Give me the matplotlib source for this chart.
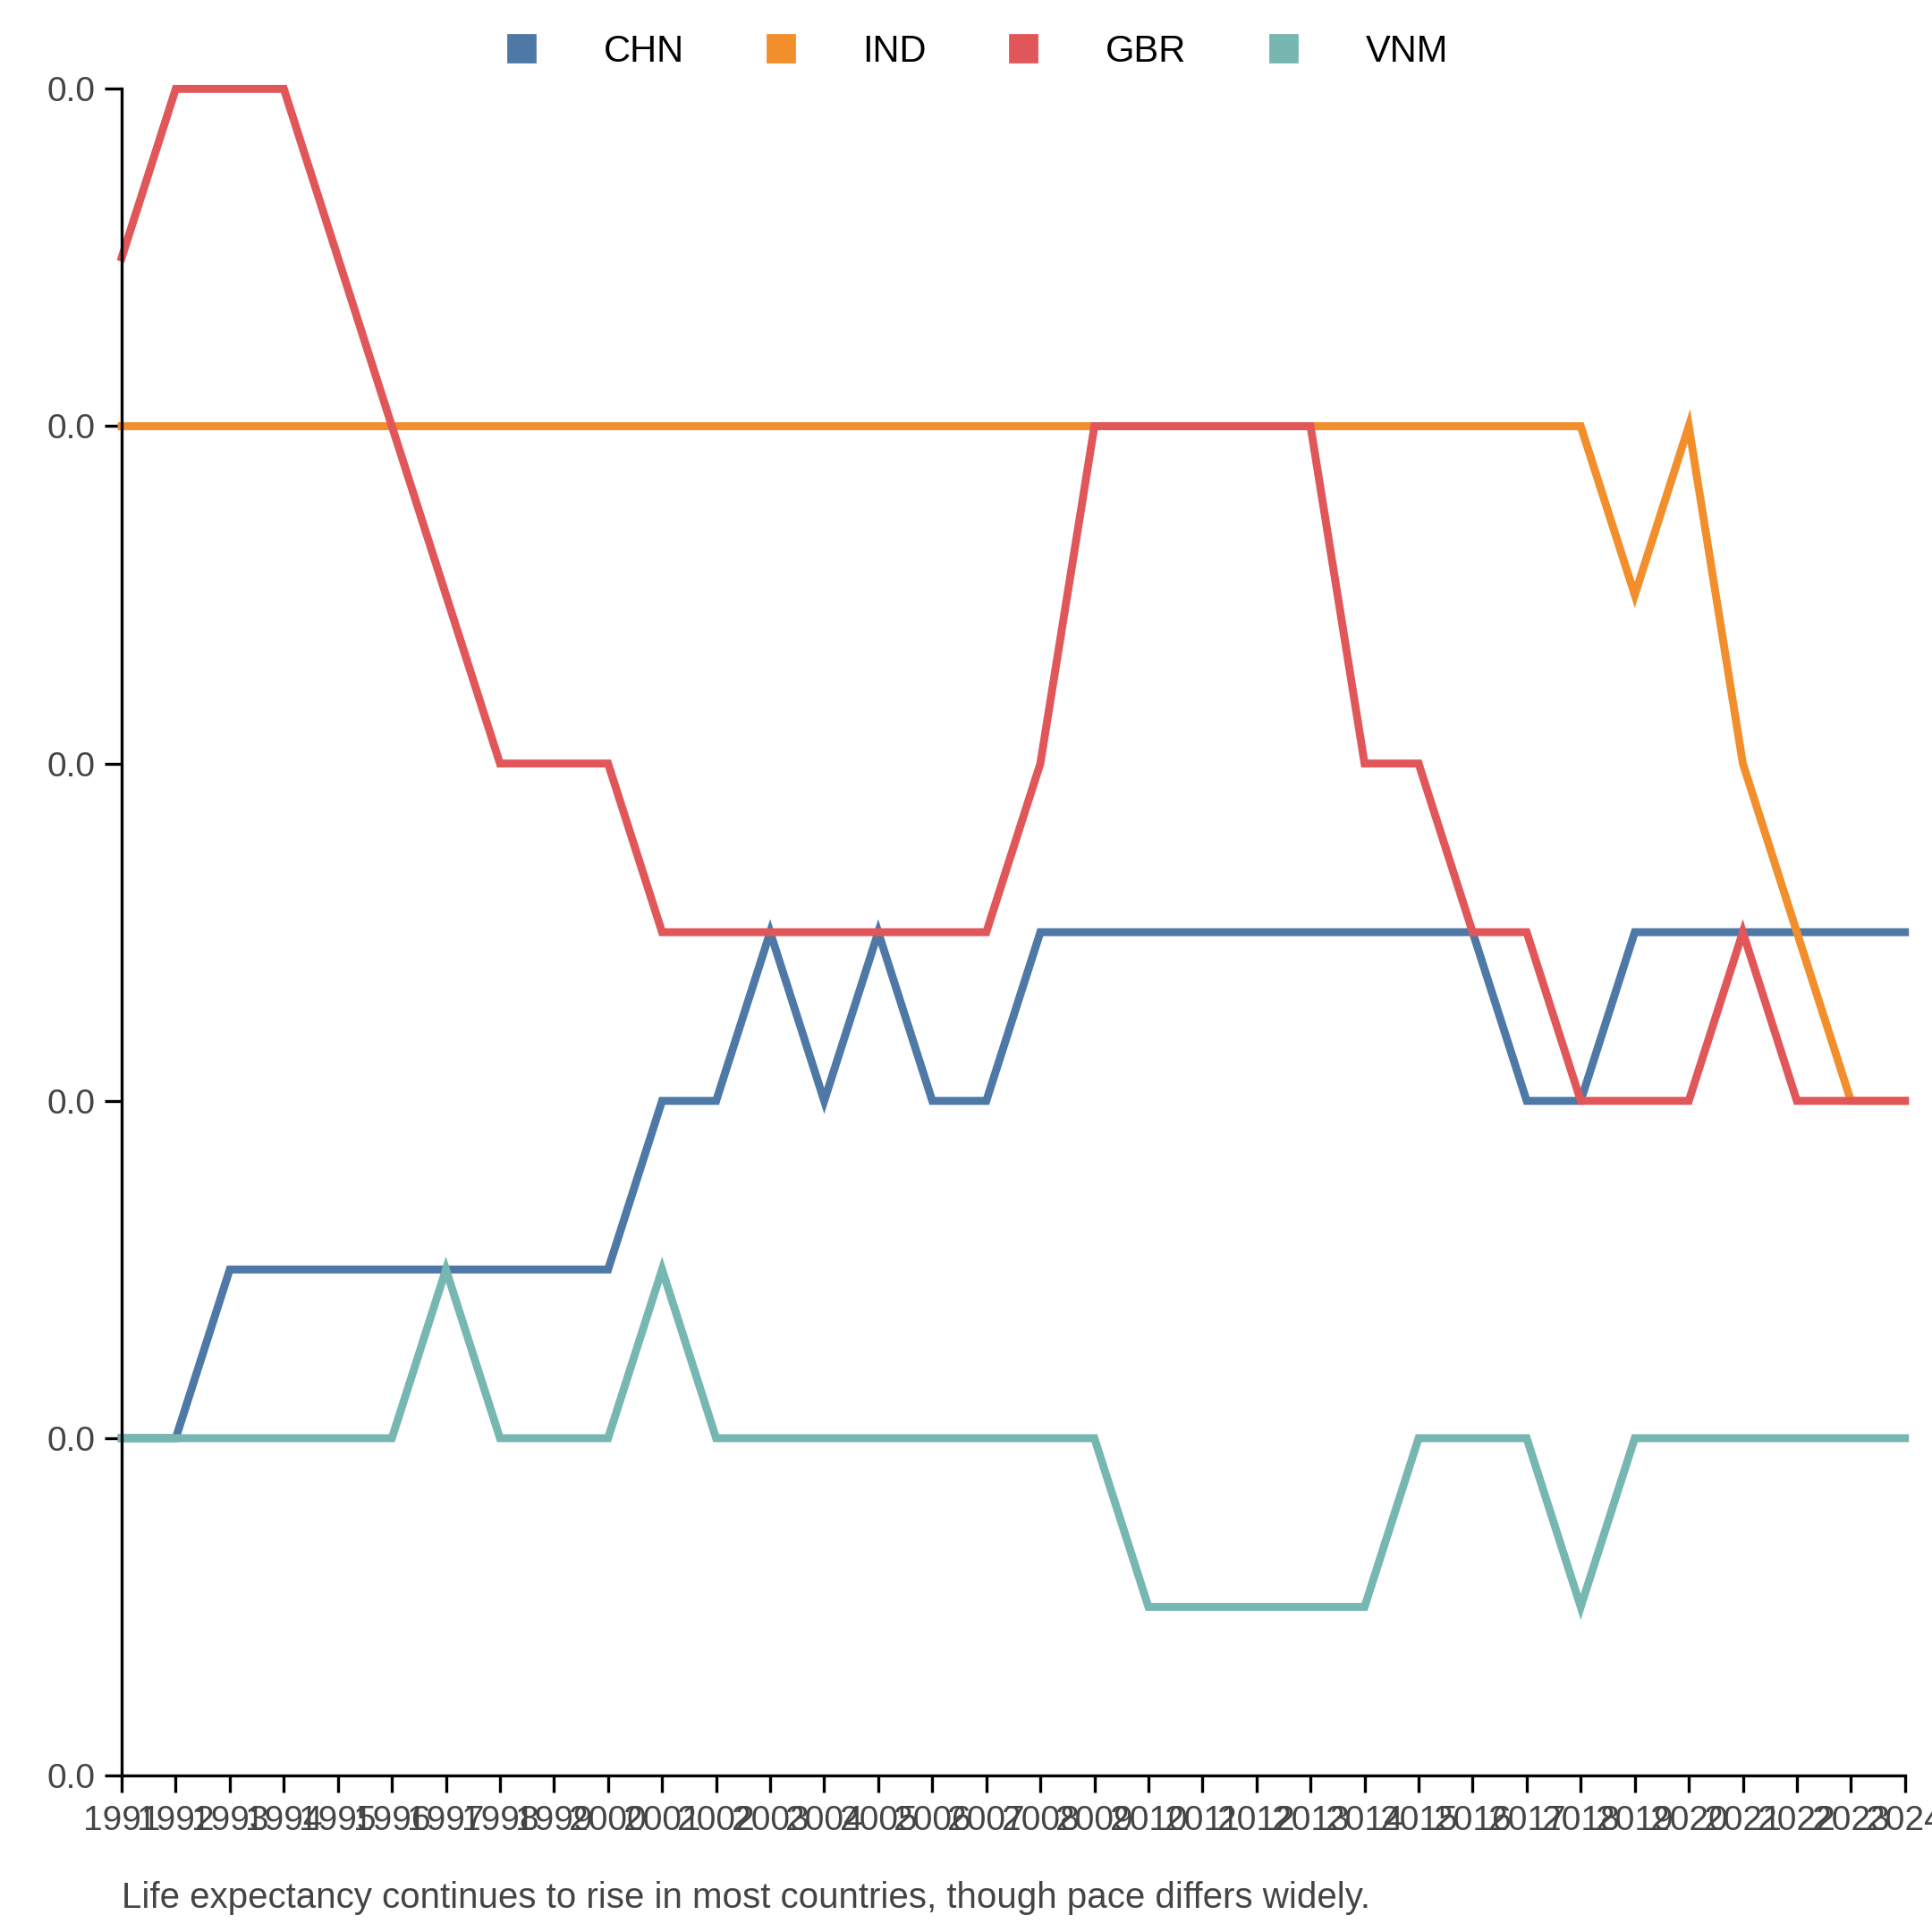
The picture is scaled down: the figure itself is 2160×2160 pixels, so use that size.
import matplotlib
matplotlib.use("Agg")
import matplotlib.pyplot as plt
from matplotlib.ticker import FormatStrFormatter
from matplotlib.lines import Line2D

plt.rcParams["font.family"] = ["Liberation Sans", "DejaVu Sans"]

years = list(range(1991, 2025))
chn = [1, 1, 1.5, 1.5, 1.5, 1.5, 1.5, 1.5, 1.5, 1.5, 2, 2, 2.5, 2, 2.5, 2, 2, 2.5,
       2.5, 2.5, 2.5, 2.5, 2.5, 2.5, 2.5, 2.5, 2, 2, 2.5, 2.5, 2.5, 2.5, 2.5, 2.5]
ind = [4] * 28 + [3.5, 4, 3, 2.5, 2, 2]
gbr = [4.5, 5, 5, 5, 4.5, 4, 3.5, 3, 3, 3, 2.5, 2.5, 2.5, 2.5, 2.5, 2.5, 2.5, 3,
       4, 4, 4, 4, 4, 3, 3, 2.5, 2.5, 2, 2, 2, 2.5, 2, 2, 2]
vnm = [1, 1, 1, 1, 1, 1, 1.5, 1, 1, 1, 1.5, 1, 1, 1, 1, 1, 1, 1,
       1, 0.5, 0.5, 0.5, 0.5, 0.5, 1, 1, 1, 0.5, 1, 1, 1, 1, 1, 1]
series = {"CHN": chn, "IND": ind, "GBR": gbr, "VNM": vnm}
colors = {"CHN": "#4e79a7", "IND": "#f28e2b", "GBR": "#e15759", "VNM": "#76b7b2"}
scale = 0.002  # values are tiny, so every tick reads 0.0

fig = plt.figure(figsize=(10.8, 10.8), dpi=200)
ax = fig.add_axes([0.063, 0.081, 0.923, 0.873])
for name, vals in series.items():
    ax.plot(years, [v * scale for v in vals], color=colors[name], linewidth=3.2,
            solid_joinstyle="miter", clip_on=False)

ax.set_xlim(1991, 2024)
ax.set_ylim(0, 5 * scale)
ax.set_xticks(years)
ax.set_xticklabels([str(y) for y in years], fontsize=14, color="#444444")
ax.set_yticks([i * scale for i in range(6)])
ax.yaxis.set_major_formatter(FormatStrFormatter("%.1f"))
ax.tick_params(axis="y", labelsize=14, labelcolor="#444444", length=7, width=1.2)
ax.tick_params(axis="x", length=7, width=1.2, pad=5)
ax.spines["top"].set_visible(False)
ax.spines["right"].set_visible(False)
for s in ("left", "bottom"):
    ax.spines[s].set_linewidth(1.2)

handles = [Line2D([], [], marker="s", linestyle="none", markersize=11,
                  color=colors[n]) for n in series]
fig.legend(handles, list(series), loc="upper center", ncol=4, frameon=False,
           bbox_to_anchor=(0.5, 1.0), fontsize=15, handletextpad=1.2,
           columnspacing=1.6)
fig.text(0.063, 0.009, "Life expectancy continues to rise in most countries, though pace differs widely.",
         fontsize=14.5, color="#444444", ha="left", va="bottom")
fig.savefig("out.png")
